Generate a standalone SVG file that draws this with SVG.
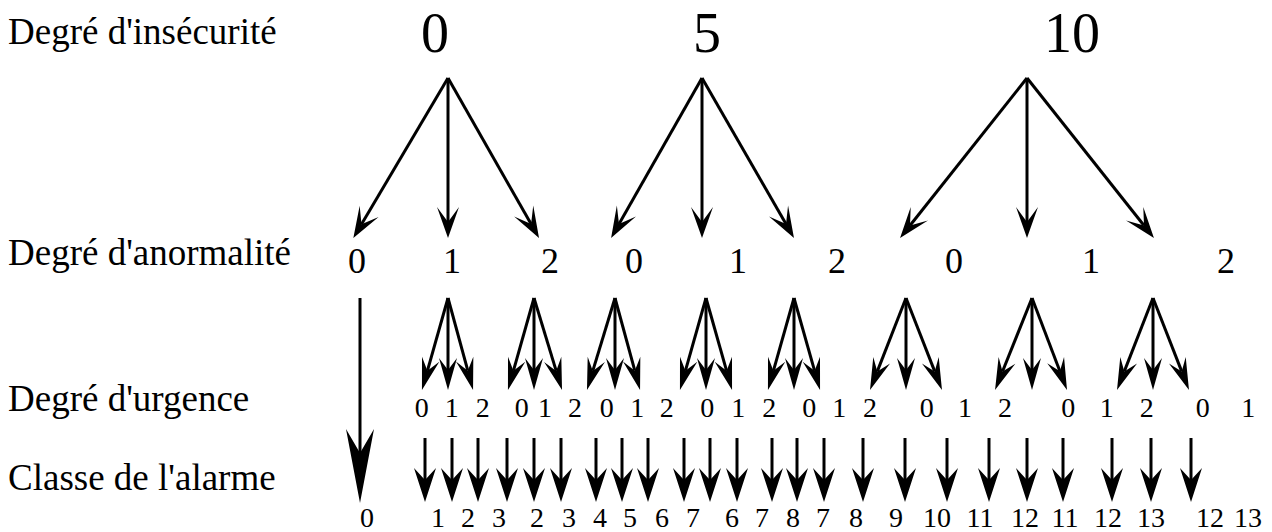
<svg xmlns="http://www.w3.org/2000/svg" width="1272" height="532" viewBox="0 0 1272 532">
<style>
text{font-family:"Liberation Serif","Times New Roman",serif;fill:#000}
.lab{font-size:37px}
.big{font-size:56px;text-anchor:middle}
.mid{font-size:36px;text-anchor:middle}
.sm{font-size:28px;text-anchor:middle}
.a1{stroke:#000;stroke-width:3;fill:none;marker-end:url(#h1)}
.a2{stroke:#000;stroke-width:3;fill:none;marker-end:url(#h2)}
.a3{stroke:#000;stroke-width:3;fill:none;marker-end:url(#h3)}
.a4{stroke:#000;stroke-width:3;fill:none;marker-end:url(#h4)}
</style>
<defs>
<marker id="h1" markerUnits="userSpaceOnUse" orient="auto" refX="0" refY="0" markerWidth="60" markerHeight="60" overflow="visible"><path d="M0,0 L-15,-11 L16,0 L-15,11 Z" fill="#000"/></marker>
<marker id="h2" markerUnits="userSpaceOnUse" orient="auto" refX="0" refY="0" markerWidth="60" markerHeight="60" overflow="visible"><path d="M0,0 L-12,-9 L20,0 L-12,9 Z" fill="#000"/></marker>
<marker id="h3" markerUnits="userSpaceOnUse" orient="auto" refX="0" refY="0" markerWidth="60" markerHeight="60" overflow="visible"><path d="M0,0 L-12,-11 L22,0 L-12,11 Z" fill="#000"/></marker>
<marker id="h4" markerUnits="userSpaceOnUse" orient="auto" refX="0" refY="0" markerWidth="120" markerHeight="120" overflow="visible"><path d="M0,0 L-24,-14 L50,0 L-24,14 Z" fill="#000"/></marker>
</defs>
<g id="row-labels" font-family="Liberation Serif, Times New Roman, serif">
<g id="lab-insecurite"><text class="lab" x="8" y="44">Degré d'insécurité</text></g>
<g id="lab-anormalite"><text class="lab" x="8" y="265">Degré d'anormalité</text></g>
<g id="lab-urgence"><text class="lab" x="8" y="411">Degré d'urgence</text></g>
<g id="lab-classe"><text class="lab" x="8" y="490">Classe de l'alarme</text></g>
</g>
<g id="insecurite">
<g id="i0"><text class="big" x="435" y="52">0</text></g>
<g id="i5"><text class="big" x="707" y="52">5</text></g>
<g id="i10"><text class="big" x="1072" y="52">10</text></g>
</g>
<g id="anormalite">
<g id="n0a"><text class="mid" x="357" y="273">0</text></g>
<g id="n1a"><text class="mid" x="452" y="273">1</text></g>
<g id="n2a"><text class="mid" x="550" y="273">2</text></g>
<g id="n0b"><text class="mid" x="634" y="273">0</text></g>
<g id="n1b"><text class="mid" x="738" y="273">1</text></g>
<g id="n2b"><text class="mid" x="837" y="273">2</text></g>
<g id="n0c"><text class="mid" x="954" y="273">0</text></g>
<g id="n1c"><text class="mid" x="1091" y="273">1</text></g>
<g id="n2c"><text class="mid" x="1226" y="273">2</text></g>
</g>
<g id="urgence">
<g id="u1"><text class="sm" x="421.7" y="417">0</text></g>
<g id="u2"><text class="sm" x="451.7" y="417">1</text></g>
<g id="u3"><text class="sm" x="482.7" y="417">2</text></g>
<g id="u4"><text class="sm" x="521.7" y="417">0</text></g>
<g id="u5"><text class="sm" x="545" y="417">1</text></g>
<g id="u6"><text class="sm" x="575" y="417">2</text></g>
<g id="u7"><text class="sm" x="606.7" y="417">0</text></g>
<g id="u8"><text class="sm" x="637.3" y="417">1</text></g>
<g id="u9"><text class="sm" x="666.7" y="417">2</text></g>
<g id="u10"><text class="sm" x="707.3" y="417">0</text></g>
<g id="u11"><text class="sm" x="738.3" y="417">1</text></g>
<g id="u12"><text class="sm" x="769.3" y="417">2</text></g>
<g id="u13"><text class="sm" x="809.3" y="417">0</text></g>
<g id="u14"><text class="sm" x="839.3" y="417">1</text></g>
<g id="u15"><text class="sm" x="870" y="417">2</text></g>
<g id="u16"><text class="sm" x="926.7" y="417">0</text></g>
<g id="u17"><text class="sm" x="965" y="417">1</text></g>
<g id="u18"><text class="sm" x="1005" y="417">2</text></g>
<g id="u19"><text class="sm" x="1068.3" y="417">0</text></g>
<g id="u20"><text class="sm" x="1106.7" y="417">1</text></g>
<g id="u21"><text class="sm" x="1146.7" y="417">2</text></g>
<g id="u22"><text class="sm" x="1202.7" y="417">0</text></g>
<g id="u23"><text class="sm" x="1248.3" y="417">1</text></g>
</g>
<g id="classe">
<g id="c1"><text class="sm" x="367" y="527">0</text></g>
<g id="c2"><text class="sm" x="438" y="527">1</text></g>
<g id="c3"><text class="sm" x="468" y="527">2</text></g>
<g id="c4"><text class="sm" x="499" y="527">3</text></g>
<g id="c5"><text class="sm" x="537" y="527">2</text></g>
<g id="c6"><text class="sm" x="569" y="527">3</text></g>
<g id="c7"><text class="sm" x="600" y="527">4</text></g>
<g id="c8"><text class="sm" x="630" y="527">5</text></g>
<g id="c9"><text class="sm" x="662" y="527">6</text></g>
<g id="c10"><text class="sm" x="693" y="527">7</text></g>
<g id="c11"><text class="sm" x="732" y="527">6</text></g>
<g id="c12"><text class="sm" x="762" y="527">7</text></g>
<g id="c13"><text class="sm" x="793" y="527">8</text></g>
<g id="c14"><text class="sm" x="823" y="527">7</text></g>
<g id="c15"><text class="sm" x="856" y="527">8</text></g>
<g id="c16"><text class="sm" x="896" y="527">9</text></g>
<g id="c17"><text class="sm" x="937" y="527">10</text></g>
<g id="c18"><text class="sm" x="980" y="527">11</text></g>
<g id="c19"><text class="sm" x="1025" y="527">12</text></g>
<g id="c20"><text class="sm" x="1065" y="527">11</text></g>
<g id="c21"><text class="sm" x="1108" y="527">12</text></g>
<g id="c22"><text class="sm" x="1151" y="527">13</text></g>
<g id="c23"><text class="sm" x="1210" y="527">12</text></g>
<g id="c24"><text class="sm" x="1248" y="527">13</text></g>
</g>
<g id="connectors">
<path class="a1" d="M448,78 L361.5,224.2"/>
<path class="a1" d="M448,78 L448,222"/>
<path class="a1" d="M448,78 L531.1,224.1"/>
<path class="a1" d="M702,78 L619,224.1"/>
<path class="a1" d="M702,78 L702,222"/>
<path class="a1" d="M702,78 L786,224.1"/>
<path class="a1" d="M1027,78 L910,225.5"/>
<path class="a1" d="M1027,78 L1027,222"/>
<path class="a1" d="M1027,78 L1144,225.5"/>

<path class="a4" d="M360,298 L360,453"/>

<path class="a2" d="M448,298 L427.4,370.8"/>
<path class="a2" d="M448,298 L448,370"/>
<path class="a2" d="M448,298 L467.8,370.7"/>
<path class="a2" d="M534,298 L513.4,370.8"/>
<path class="a2" d="M534,298 L534,370"/>
<path class="a2" d="M534,298 L556.2,370.9"/>
<path class="a2" d="M615,298 L592.8,370.9"/>
<path class="a2" d="M615,298 L615,370"/>
<path class="a2" d="M615,298 L634.8,370.7"/>
<path class="a2" d="M706,298 L685.4,370.8"/>
<path class="a2" d="M706,298 L706,370"/>
<path class="a2" d="M706,298 L726.6,370.8"/>
<path class="a2" d="M794,298 L773.4,370.8"/>
<path class="a2" d="M794,298 L794,370"/>
<path class="a2" d="M794,298 L814.6,370.8"/>
<path class="a2" d="M906,298 L877.3,371.4"/>
<path class="a2" d="M906,298 L906,370"/>
<path class="a2" d="M906,298 L934.7,371.4"/>
<path class="a2" d="M1032,298 L1002.5,371.5"/>
<path class="a2" d="M1032,298 L1032,370"/>
<path class="a2" d="M1032,298 L1059.9,371.3"/>
<path class="a2" d="M1153,298 L1124.3,371.4"/>
<path class="a2" d="M1153,298 L1153,370"/>
<path class="a2" d="M1153,298 L1181.7,371.4"/>

<path class="a3" d="M425,438 V480"/>
<path class="a3" d="M452,438 V480"/>
<path class="a3" d="M478,438 V480"/>
<path class="a3" d="M507,438 V480"/>
<path class="a3" d="M534,438 V480"/>
<path class="a3" d="M561,438 V480"/>
<path class="a3" d="M596,438 V480"/>
<path class="a3" d="M622,438 V480"/>
<path class="a3" d="M648,438 V480"/>
<path class="a3" d="M684,438 V480"/>
<path class="a3" d="M710,438 V480"/>
<path class="a3" d="M737,438 V480"/>
<path class="a3" d="M772,438 V480"/>
<path class="a3" d="M797,438 V480"/>
<path class="a3" d="M824,438 V480"/>
<path class="a3" d="M863,438 V480"/>
<path class="a3" d="M905,438 V480"/>
<path class="a3" d="M947,438 V480"/>
<path class="a3" d="M989,438 V480"/>
<path class="a3" d="M1027,438 V480"/>
<path class="a3" d="M1063,438 V480"/>
<path class="a3" d="M1112,438 V480"/>
<path class="a3" d="M1151,438 V480"/>
<path class="a3" d="M1191,438 V480"/>
</g>
</svg>
